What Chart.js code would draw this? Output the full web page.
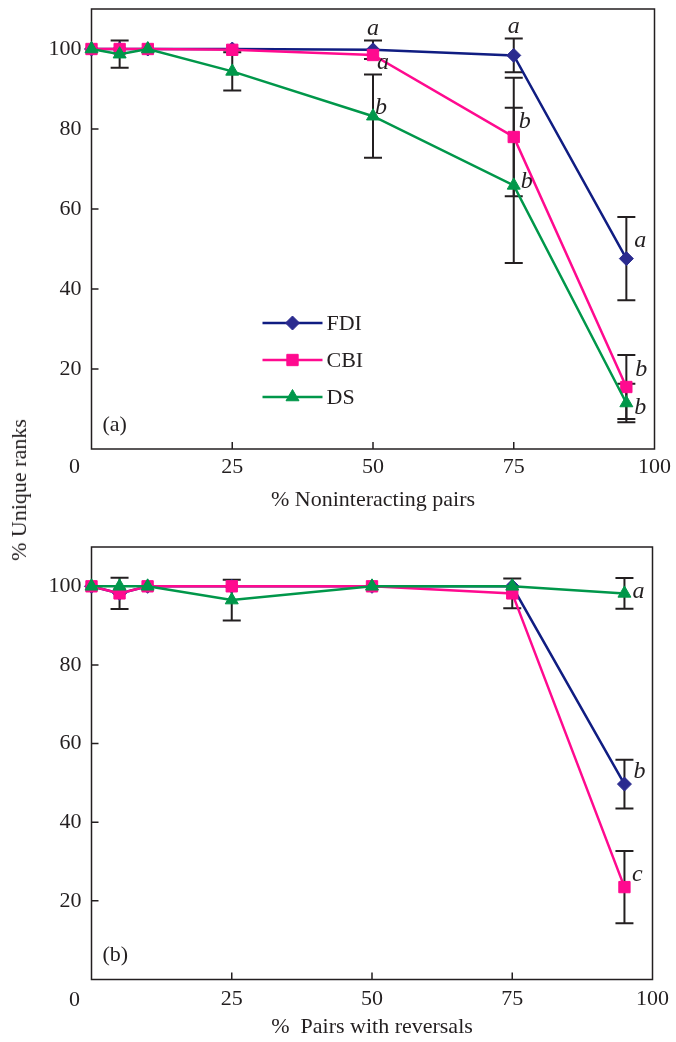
<!DOCTYPE html>
<html>
<head>
<meta charset="utf-8">
<script src="https://cdn.jsdelivr.net/npm/chart.js@4.4.1/dist/chart.umd.min.js"></script>
<style>
  body { margin: 0; background: #fff; }
  #wrap { position: relative; width: 676px; height: 1042px; }
  canvas { position: absolute; left: 0; }
  #ytitle {
    position: absolute; left: 19px; top: 490px;
    transform: translate(-50%, -50%) rotate(-90deg);
    white-space: nowrap; font: 22px 'Liberation Serif', serif; color: #231f20;
  }
</style>
</head>
<body>
<div id="wrap">
  <canvas id="chartA" width="676" height="520" style="top:0"></canvas>
  <canvas id="chartB" width="676" height="522" style="top:520px"></canvas>
  <div id="ytitle">% Unique ranks</div>
</div>
<script>
// x positions (% of pairs)
const xVals = [0, 5, 10, 25, 50, 75, 95];
const yTicks = [20, 40, 60, 80, 100];
const xTicks = [0, 25, 50, 75, 100];

// panel (a): % noninteracting pairs
const fdiA    = [100, 100, 100, 100, 99.8, 98.4, 47.6];
const fdiAErr = [0, 0, 0, 0, 2.3, 4.2, 10.4];
const cbiA    = [100, 100, 100, 99.8, 98.5, 78.0, 15.5];
const cbiAErr = [0, 0, 0, 0, 0, 14.8, 8.0];
const dsA     = [100, 98.7, 100, 94.4, 83.2, 65.9, 11.5];
const dsAErr  = [0, 3.4, 0, 4.8, 10.4, 19.4, 4.8];
const fdiALetters = [null, null, null, null, 'a', 'a', 'a'];
const cbiALetters = [null, null, null, null, 'a', 'b', 'b'];
const dsALetters  = [null, null, null, null, 'b', 'b', 'b'];

// panel (b): % pairs with reversals
const fdiB    = [100, 98.2, 100, 100, 100, 100, 49.7];
const fdiBErr = [0, 0, 0, 0, 0, 0, 6.2];
const cbiB    = [100, 98.2, 100, 100, 100, 98.2, 23.5];
const cbiBErr = [0, 4.0, 0, 0, 0, 3.8, 9.2];
const dsB     = [100, 100, 100, 96.5, 100, 100, 98.2];
const dsBErr  = [0, 0, 0, 5.2, 0, 0, 3.9];
const fdiBLetters = [null, null, null, null, null, null, 'b'];
const cbiBLetters = [null, null, null, null, null, null, 'c'];
const dsBLetters  = [null, null, null, null, null, null, 'a'];

const INK = '#231f20';
const FONT = "'Liberation Serif', serif";
Chart.defaults.font.family = FONT;
Chart.defaults.font.size = 22;
Chart.defaults.color = INK;

// letter offsets (px) from the marker; 'above' sits over the top error cap
const letterPosA = {
  FDI: [null, null, null, null, 'above', 'above', [14, -18]],
  CBI: [null, null, null, null, [10, 8], [11, -15], [15, -17]],
  DS:  [null, null, null, null, [8, -9], [13, -4], [14, 5]]
};
const letterPosB = {
  FDI: [null, null, null, null, null, null, [15, -12]],
  CBI: [null, null, null, null, null, null, [13, -12]],
  DS:  [null, null, null, null, null, null, [14, -2]]
};

const styles = {
  FDI: { line: '#101d82', fill: '#2b2b8f', pointStyle: 'rectRot', radius: 7, order: 3 },
  CBI: { line: '#ff0a8f', fill: '#ff0a8f', pointStyle: 'rect', radius: 8, order: 2 },
  DS:  { line: '#00974a', fill: '#00974a', pointStyle: 'triangle', radius: 7.5, order: 1 }
};

function toPoints(vals) {
  return vals.map((v, i) => ({ x: xVals[i], y: v }));
}

function makeDataset(name, vals, errs, letters, letterPos) {
  const s = styles[name];
  return {
    label: name,
    data: toPoints(vals),
    errors: errs,
    letters: letters,
    letterPos: letterPos[name],
    borderColor: s.line,
    backgroundColor: s.fill,
    pointBackgroundColor: s.fill,
    pointBorderColor: s.fill,
    pointBorderWidth: 1,
    pointStyle: s.pointStyle,
    pointRadius: s.radius,
    borderWidth: 2.5,
    tension: 0,
    clip: false,
    order: s.order
  };
}

// frame + inner tick marks
const framePlugin = {
  id: 'frame',
  beforeDatasetsDraw(chart) {
    const { ctx, chartArea: a, scales: { x, y } } = chart;
    ctx.save();
    ctx.strokeStyle = INK;
    ctx.lineWidth = 1.5;
    ctx.strokeRect(a.left, a.top, a.right - a.left, a.bottom - a.top);
    ctx.beginPath();
    yTicks.forEach(v => {
      const py = y.getPixelForValue(v);
      ctx.moveTo(a.left, py); ctx.lineTo(a.left + 7, py);
    });
    xTicks.slice(1, -1).forEach(v => {
      const px = x.getPixelForValue(v);
      ctx.moveTo(px, a.bottom); ctx.lineTo(px, a.bottom - 7);
    });
    ctx.stroke();
    // the shared origin label sits left of the corner
    ctx.fillStyle = INK;
    ctx.font = '22px ' + FONT;
    ctx.textAlign = 'center';
    ctx.textBaseline = 'middle';
    ctx.fillText('0', x.getPixelForValue(0) - 17, a.bottom + chart.options.cornerLabelGap);
    ctx.restore();
  }
};

const errorBars = {
  id: 'errorBars',
  beforeDatasetsDraw(chart) {
    const { ctx, scales: { x, y } } = chart;
    ctx.save();
    ctx.strokeStyle = INK;
    ctx.lineWidth = 2;
    chart.data.datasets.forEach(ds => {
      ds.errors.forEach((e, i) => {
        if (!e) return;
        const p = ds.data[i];
        const px = x.getPixelForValue(p.x);
        const top = y.getPixelForValue(p.y + e);
        const bot = y.getPixelForValue(p.y - e);
        ctx.beginPath();
        ctx.moveTo(px, top); ctx.lineTo(px, bot);
        ctx.moveTo(px - 9, top); ctx.lineTo(px + 9, top);
        ctx.moveTo(px - 9, bot); ctx.lineTo(px + 9, bot);
        ctx.stroke();
      });
    });
    ctx.restore();
  }
};

const letterPlugin = {
  id: 'letters',
  afterDatasetsDraw(chart) {
    const { ctx, scales: { x, y } } = chart;
    ctx.save();
    ctx.fillStyle = INK;
    ctx.font = 'italic 24px ' + FONT;
    ctx.textAlign = 'center';
    ctx.textBaseline = 'middle';
    chart.data.datasets.forEach(ds => {
      ds.letters.forEach((t, i) => {
        if (!t) return;
        const p = ds.data[i];
        const pos = ds.letterPos[i];
        const px = x.getPixelForValue(p.x);
        if (pos === 'above') {
          ctx.fillText(t, px, y.getPixelForValue(p.y + ds.errors[i]) - 12);
        } else {
          ctx.fillText(t, px + pos[0], y.getPixelForValue(p.y) + pos[1]);
        }
      });
    });
    ctx.restore();
  }
};

const panelPlugin = {
  id: 'panelTag',
  afterDraw(chart) {
    const { ctx, chartArea: a } = chart;
    ctx.save();
    ctx.fillStyle = INK;
    ctx.font = '22px ' + FONT;
    ctx.textAlign = 'left';
    ctx.textBaseline = 'middle';
    ctx.fillText(chart.options.panelTag, a.left + 11, a.bottom - 24);
    ctx.restore();
  }
};

const legendPlugin = {
  id: 'innerLegend',
  afterDatasetsDraw(chart) {
    if (!chart.options.showInnerLegend) return;
    const { ctx, chartArea: a } = chart;
    const names = ['FDI', 'CBI', 'DS'];
    ctx.save();
    names.forEach((n, k) => {
      const s = styles[n];
      const ly = a.top + 314 + k * 37;
      const x0 = a.left + 171, x1 = a.left + 231;
      ctx.strokeStyle = s.line;
      ctx.lineWidth = 2.5;
      ctx.beginPath(); ctx.moveTo(x0, ly); ctx.lineTo(x1, ly); ctx.stroke();
      ctx.fillStyle = s.fill;
      ctx.strokeStyle = s.fill;
      ctx.lineWidth = 1;
      Chart.helpers.drawPoint(ctx, { pointStyle: s.pointStyle, radius: s.radius, borderWidth: 1, rotation: 0 }, (x0 + x1) / 2, ly);
      ctx.fillStyle = INK;
      ctx.font = '22px ' + FONT;
      ctx.textAlign = 'left';
      ctx.textBaseline = 'middle';
      ctx.fillText(n, x1 + 4, ly + 1);
    });
    ctx.restore();
  }
};

function makeChart(id, datasets, cfg) {
  return new Chart(document.getElementById(id), {
    type: 'line',
    data: { datasets: datasets },
    plugins: [framePlugin, errorBars, letterPlugin, panelPlugin, legendPlugin],
    options: {
      responsive: false,
      animation: false,
      devicePixelRatio: 1,
      panelTag: cfg.tag,
      showInnerLegend: cfg.legend,
      cornerLabelGap: cfg.labelGap,
      layout: { padding: { left: 0, right: 21, top: cfg.top, bottom: 0 } },
      plugins: { legend: { display: false }, tooltip: { enabled: false } },
      scales: {
        x: {
          type: 'linear', min: 0, max: 100,
          afterBuildTicks: s => { s.ticks = xTicks.map(v => ({ value: v })); },
          afterFit: s => { s.height = cfg.xHeight; },
          grid: { display: false, drawTicks: false },
          border: { display: false },
          ticks: { autoSkip: false, maxRotation: 0, padding: cfg.tickPad,
                   callback: v => (v === 0 ? '' : v) },
          title: { display: true, text: cfg.xTitle, font: { size: 22 },
                   padding: { top: 0, bottom: cfg.titlePad } }
        },
        y: {
          min: 0, max: 110,
          afterBuildTicks: s => { s.ticks = yTicks.map(v => ({ value: v })); },
          afterFit: s => { s.width = 91.5; s.paddingTop = 0; s.paddingBottom = 0; },
          grid: { display: false, drawTicks: false },
          border: { display: false },
          ticks: { padding: 10 }
        }
      }
    }
  });
}

makeChart('chartA', [
  makeDataset('FDI', fdiA, fdiAErr, fdiALetters, letterPosA),
  makeDataset('CBI', cbiA, cbiAErr, cbiALetters, letterPosA),
  makeDataset('DS', dsA, dsAErr, dsALetters, letterPosA)
], { tag: '(a)', legend: true, top: 9, xHeight: 71, tickPad: 5, titlePad: 7,
     labelGap: 18, xTitle: '% Noninteracting pairs' });

makeChart('chartB', [
  makeDataset('FDI', fdiB, fdiBErr, fdiBLetters, letterPosB),
  makeDataset('CBI', cbiB, cbiBErr, cbiBLetters, letterPosB),
  makeDataset('DS', dsB, dsBErr, dsBLetters, letterPosB)
], { tag: '(b)', legend: false, top: 27, xHeight: 62.5, tickPad: 7, titlePad: 2,
     labelGap: 20.5, xTitle: '%  Pairs with reversals' });
</script>
</body>
</html>
